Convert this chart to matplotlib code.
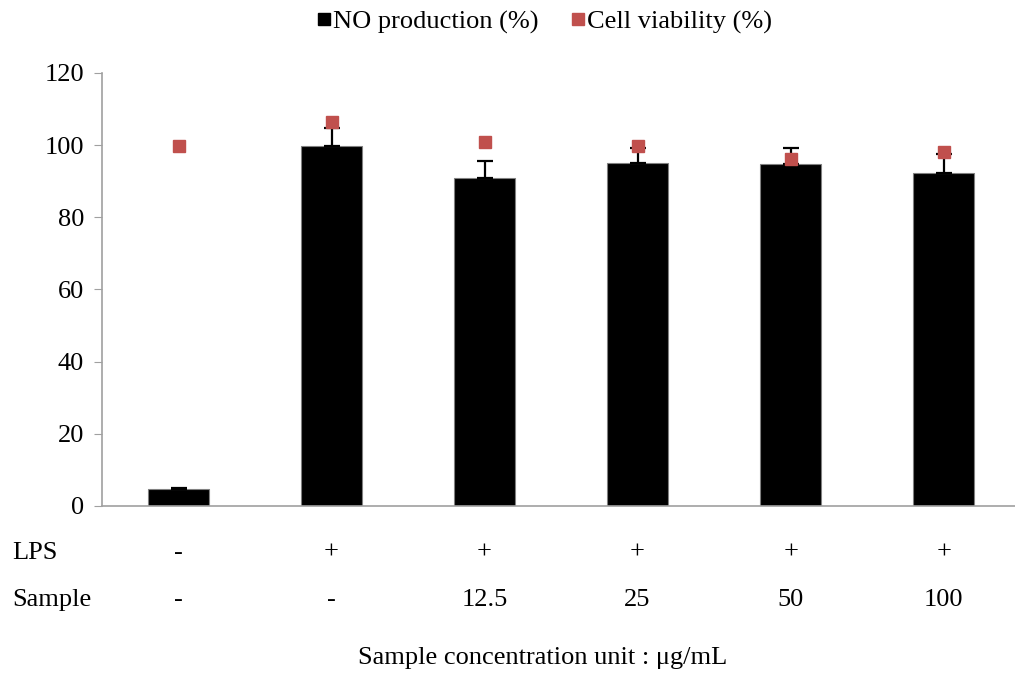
import matplotlib
matplotlib.use("Agg")
import matplotlib.pyplot as plt
from matplotlib.lines import Line2D
from matplotlib.transforms import blended_transform_factory

plt.rcParams['font.family'] = ['Liberation Serif', 'DejaVu Serif']

# Data
lps = ['-', '+', '+', '+', '+', '+']
sample = ['-', '-', '12.5', '25', '50', '100']
no_prod = [4.7, 99.7, 91.0, 95.1, 94.7, 92.2]
no_err = [0.4, 5.0, 4.7, 4.0, 4.4, 5.3]
viability = [99.8, 106.5, 100.9, 99.8, 96.3, 98.0]

red = '#c0504d'
fs = 19

fig = plt.figure(figsize=(10.15, 6.74), dpi=100)
ax = fig.add_axes([0.1005, 0.2493, 0.9, 0.6424])

x = list(range(len(no_prod)))
ax.bar(x, no_prod, width=0.4, color='black', edgecolor='#808080', linewidth=0.8, zorder=2)
ax.errorbar(x, no_prod, yerr=[[0] * len(no_err), no_err], fmt='none',
            ecolor='black', elinewidth=1.6, capsize=6, capthick=1.6, zorder=3)
ax.plot(x, viability, 's', color=red, markersize=9, zorder=4)

ax.set_xlim(-0.5, 5.47)
ax.set_ylim(0, 120)
ax.set_yticks(range(0, 121, 20))
ax.set_xticks([])
ax.tick_params(axis='y', labelsize=fs, length=6, color='#a0a0a0', pad=7)
for s in ['top', 'right']:
    ax.spines[s].set_visible(False)
for s in ['left', 'bottom']:
    ax.spines[s].set_color('#a0a0a0')
    ax.spines[s].set_linewidth(1.2)

# treatment table under the axis
tr = blended_transform_factory(ax.transData, fig.transFigure)
for i in x:
    ax.text(i, 1 - 553 / 674, lps[i], transform=tr, ha='center', va='center', fontsize=fs)
    ax.text(i, 1 - 600 / 674, sample[i], transform=tr, ha='center', va='center', fontsize=fs)
fig.text(12 / 1015, 1 - 553 / 674, 'LPS', ha='left', va='center', fontsize=fs)
fig.text(12 / 1015, 1 - 600 / 674, 'Sample', ha='left', va='center', fontsize=fs)
fig.text(543 / 1015, 1 - 658 / 674, 'Sample concentration unit : \u03bcg/mL',
         ha='center', va='center', fontsize=fs)

handles = [Line2D([], [], marker='s', color='black', linestyle='none', markersize=9),
           Line2D([], [], marker='s', color=red, linestyle='none', markersize=9)]
fig.legend(handles, ['NO production (%)', 'Cell viability (%)'], loc='center',
           bbox_to_anchor=(0.536, 1 - 22 / 674), ncol=2, frameon=False, fontsize=fs,
           handletextpad=0.05, columnspacing=1.2, handlelength=0.6)

fig.savefig('out.png', dpi=100)
